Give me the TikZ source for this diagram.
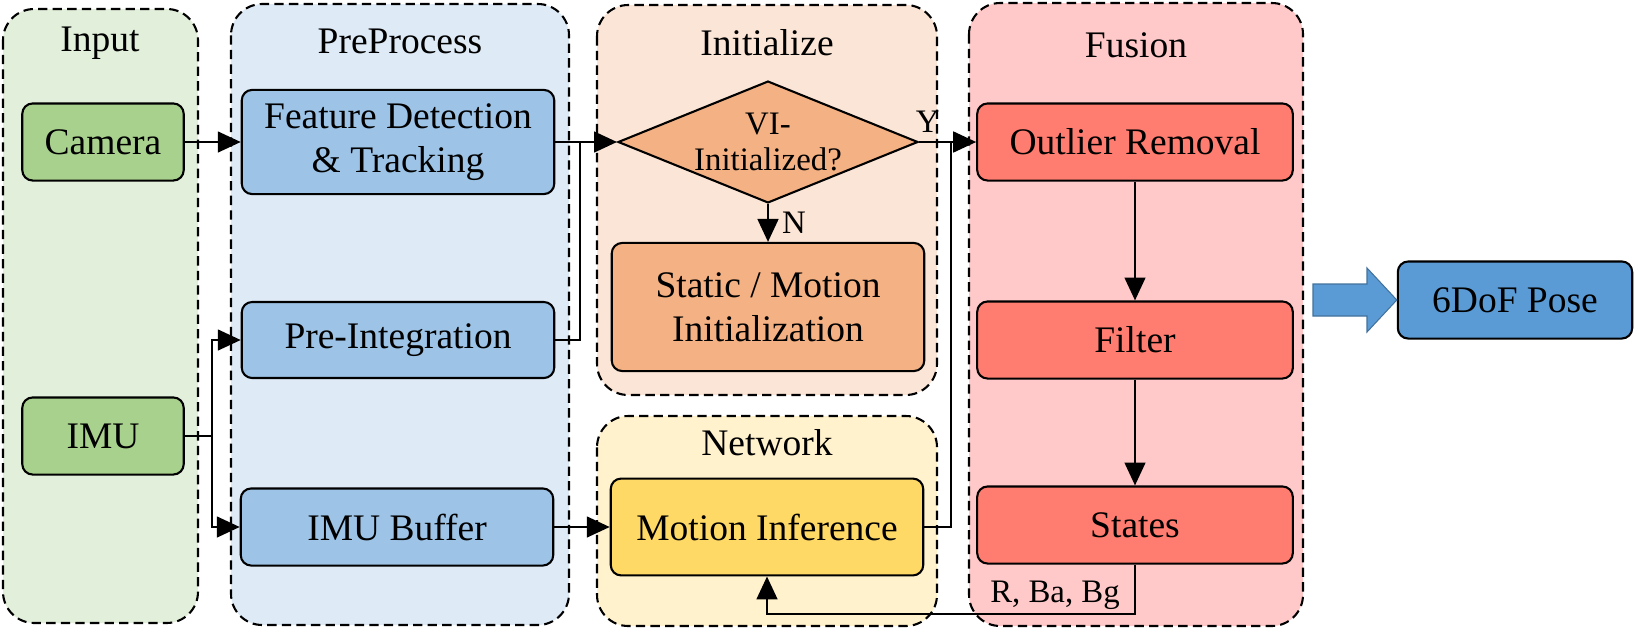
\documentclass[tikz,border=0pt]{standalone}
\usepackage{fontspec}
\setmainfont{Liberation Serif}
\usetikzlibrary{shapes.geometric, arrows.meta, positioning}

\definecolor{inbg}{HTML}{E2EFDA}
\definecolor{ingreen}{HTML}{A9D18E}
\definecolor{prebg}{HTML}{DEEBF7}
\definecolor{preblue}{HTML}{9DC3E6}
\definecolor{initbg}{HTML}{FBE5D6}
\definecolor{initorange}{HTML}{F4B183}
\definecolor{netbg}{HTML}{FFF2CC}
\definecolor{netyellow}{HTML}{FFD966}
\definecolor{fusebg}{HTML}{FFC9C9}
\definecolor{fusered}{HTML}{FF7C70}
\definecolor{poseblue}{HTML}{5B9BD5}
\definecolor{poseedge}{HTML}{41719C}

\begin{document}
\begin{tikzpicture}[
    x=0.48pt, y=-0.48pt,
    stage/.style={draw=black, line width=1pt, dash pattern=on 4.5pt off 2.5pt, rounded corners=15pt},
    stagetitle/.style={font=\fontsize{18}{21}\selectfont},
    box/.style={rectangle, rounded corners=5pt, draw=black, line width=1pt, minimum width=150pt, minimum height=37pt, text centered, align=center, font=\fontsize{18}{21}\selectfont},
    inbox/.style={box, fill=ingreen, minimum width=77.5pt},
    prebox/.style={box, fill=preblue},
    initbox/.style={box, fill=initorange},
    netbox/.style={box, fill=netyellow},
    fusebox/.style={box, fill=fusered, minimum width=151.5pt},
    decision/.style={diamond, aspect=2.5, inner sep=0pt, minimum width=144pt, minimum height=58.5pt, draw=black, line width=1pt, fill=initorange, align=center, font=\fontsize{15.75}{17}\selectfont},
    arrow/.style={line width=1pt, -{Triangle[length=11pt, width=10pt]}},
    link/.style={line width=1pt},
    tag/.style={font=\fontsize{15.75}{17}\selectfont}
]
\useasboundingbox (0,0) rectangle (1635,635);

% stages
\draw[stage, fill=inbg] (3,9) rectangle (198,623);
\draw[stage, fill=prebg] (231,4) rectangle (569,625);
\draw[stage, fill=initbg] (597,5) rectangle (937,395);
\draw[stage, fill=netbg] (597,416) rectangle (937,626);
\draw[stage, fill=fusebg] (969,3) rectangle (1303,626);

\node (inputtitle) [stagetitle] at (100,43) {Input};
\node (pretitle) [stagetitle] at (400,41) {PreProcess};
\node (inittitle) [stagetitle] at (767,43) {Initialize};
\node (nettitle) [stagetitle] at (767,443) {Network};
\node (fusetitle) [stagetitle] at (1136,45) {Fusion};

% blocks
\node (camera) [inbox] at (103,142) {Camera};
\node (imu) [inbox] at (103,436) {IMU};
\node (feature) [prebox, minimum height=50pt] at (398,142) {Feature Detection\\ \& Tracking};
\node (preint) [prebox, minimum height=36.5pt] at (398,340) {Pre-Integration};
\node (imubuf) [prebox] at (397,527) {IMU Buffer};
\node (vi) [decision] at (768,142) {VI-\\Initialized?};
\node (static) [initbox, minimum height=61.5pt] at (768,307) {Static / Motion\\Initialization};
\node (motion) [netbox, minimum height=46.5pt] at (767,527) {Motion Inference};
\node (outlier) [fusebox] at (1135,142) {Outlier Removal};
\node (filter) [fusebox] at (1135,340) {Filter};
\node (states) [fusebox] at (1135,525) {States};
\node (pose) [box, fill=poseblue, minimum width=112.5pt] at (1515,300) {6DoF Pose};

% connectors
\coordinate (imusplit) at (212,436);
\coordinate (prejoin) at (580,142);
\coordinate (fusejoin) at (951,142);
\coordinate (feedback) at (1135,614);

\draw[arrow] (camera) -- (feature);
\draw[link] (imu) -- (imusplit);
\draw[arrow] (imusplit) |- (preint);
\draw[arrow] (imusplit) |- (imubuf);
\draw[arrow] (feature) -- (vi);
\draw[link] (preint) -| (prejoin);
\draw[arrow] (vi) -- node[pos=0.15, above=3pt, inner sep=1pt, tag] (ylabel) {Y} (outlier);
\draw[arrow] (vi) -- node[anchor=west, xshift=3pt, tag] (nlabel) {N} (static);
\draw[arrow] (imubuf) -- (motion);
\draw[link] (motion) -| (fusejoin);
\draw[arrow] (outlier) -- (filter);
\draw[arrow] (filter) -- (states);
\draw[arrow] (states) -- (feedback) -| (motion);
\node (statelabel) [tag] at (1055,595) {R, Ba, Bg};

% output arrow
\draw[fill=poseblue, draw=poseedge, line width=0.5pt] (1313,284) -- (1367,284) -- (1367,268) -- (pose.west) -- (1367,332) -- (1367,316) -- (1313,316) -- cycle;

\end{tikzpicture}
\end{document}
